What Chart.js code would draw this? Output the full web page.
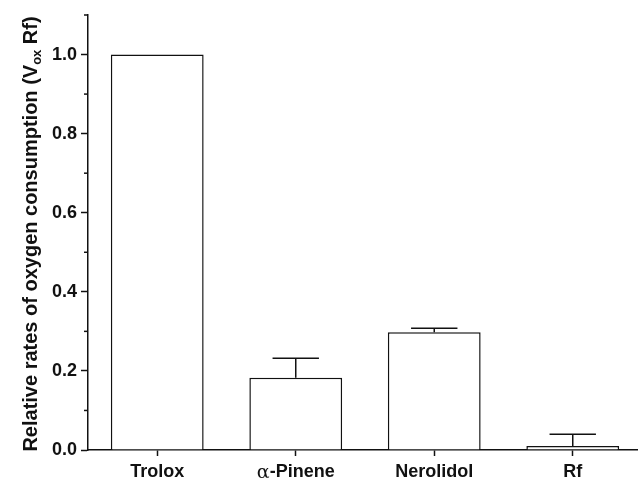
<!DOCTYPE html>
<html>
<head>
<meta charset="UTF-8">
<script src="https://cdn.jsdelivr.net/npm/chart.js@4/dist/chart.umd.min.js"></script>
<style>
  * { margin: 0; padding: 0; }
  body { background: #fff; width: 638px; height: 482px; overflow: hidden; }
  #wrap { width: 642px; height: 482px; position: relative; }
</style>
</head>
<body>
<div id="wrap"><canvas id="chart"></canvas></div>
<script>
// data
const categories = ['Trolox', 'α-Pinene', 'Nerolidol', 'Rf'];
const values = [1.0, 0.183, 0.298, 0.010];
const errors = [0, 0.049, 0.010, 0.030];
const yMax = 1.1;
const yStep = 0.1;

const FONT = "'Liberation Sans', Arial, sans-serif";
const INK = '#111';

// upward-only error bars with caps half the bar width
const errorBars = {
  id: 'errorBars',
  afterDatasetsDraw(chart) {
    const { ctx, scales: { y } } = chart;
    const meta = chart.getDatasetMeta(0);
    ctx.save();
    ctx.strokeStyle = INK;
    ctx.lineWidth = 1.5;
    meta.data.forEach((bar, i) => {
      if (!errors[i]) return;
      const top = y.getPixelForValue(values[i] + errors[i]);
      const base = y.getPixelForValue(values[i]);
      const half = bar.width / 4;
      ctx.beginPath();
      ctx.moveTo(bar.x, base);
      ctx.lineTo(bar.x, top);
      ctx.moveTo(bar.x - half, top);
      ctx.lineTo(bar.x + half, top);
      ctx.stroke();
    });
    ctx.restore();
  }
};

// minor ticks, x labels and the rotated y title with subscript
const decorations = {
  id: 'decorations',
  afterDraw(chart) {
    const { ctx, scales: { x, y }, chartArea } = chart;
    ctx.save();
    ctx.strokeStyle = INK;
    ctx.lineWidth = 1.5;
    // minor ticks at odd tenths
    for (let k = 1; k <= 11; k += 2) {
      const py = y.getPixelForValue(k / 10);
      ctx.beginPath();
      ctx.moveTo(chartArea.left - 4, py);
      ctx.lineTo(chartArea.left, py);
      ctx.stroke();
    }

    // category labels
    ctx.fillStyle = INK;
    ctx.textBaseline = 'middle';
    categories.forEach((c, i) => {
      const px = x.getPixelForValue(i);
      if (c.startsWith('α')) {
        const rest = c.slice(1);
        ctx.font = "19px 'DejaVu Serif', serif";
        const a = ctx.measureText('α').width;
        ctx.font = 'bold 18px ' + FONT;
        const r = ctx.measureText(rest).width;
        const start = px - (a + r) / 2;
        ctx.textAlign = 'left';
        ctx.font = "19px 'DejaVu Serif', serif";
        ctx.fillText('α', start, 473);
        ctx.font = 'bold 18px ' + FONT;
        ctx.fillText(rest, start + a, 472);
      } else {
        ctx.textAlign = 'center';
        ctx.font = 'bold 18px ' + FONT;
        ctx.fillText(c, px, 472);
      }
    });

    // y title
    const parts = [
      { t: 'Relative rates of oxygen consumption (V', f: 'bold 20px ' + FONT, dy: 0 },
      { t: 'ox', f: 'bold 13px ' + FONT, dy: 4 },
      { t: ' Rf)', f: 'bold 20px ' + FONT, dy: 0 }
    ];
    let total = 0;
    parts.forEach(p => { ctx.font = p.f; p.w = ctx.measureText(p.t).width; total += p.w; });
    ctx.translate(37, 234);
    ctx.rotate(-Math.PI / 2);
    ctx.textAlign = 'left';
    ctx.textBaseline = 'alphabetic';
    let cx = -total / 2;
    parts.forEach(p => {
      ctx.font = p.f;
      ctx.fillText(p.t, cx, p.dy);
      cx += p.w;
    });
    ctx.restore();
  }
};

new Chart(document.getElementById('chart'), {
  type: 'bar',
  data: {
    labels: categories,
    datasets: [{
      data: values,
      backgroundColor: '#fff',
      borderColor: INK,
      borderWidth: 1.5,
      borderSkipped: 'bottom',
      barPercentage: 0.67,
      categoryPercentage: 1.0
    }]
  },
  options: {
    responsive: true,
    maintainAspectRatio: false,
    animation: false,
    layout: { padding: { top: 15, right: 0, left: 0, bottom: 0 } },
    plugins: { legend: { display: false }, tooltip: { enabled: false } },
    scales: {
      x: {
        grid: { display: true, drawOnChartArea: false, offset: false, tickLength: 6, tickColor: INK, tickWidth: 1.5 },
        border: { color: INK, width: 1.5 },
        ticks: { display: false },
        afterFit(scale) { scale.height = 32; }
      },
      y: {
        min: 0,
        max: yMax,
        grid: {
          drawOnChartArea: false,
          tickLength: 7,
          tickWidth: 1.5,
          tickColor: ctx => (Math.round(ctx.tick.value * 10) % 2 === 0 ? INK : 'transparent')
        },
        border: { color: INK, width: 1.5 },
        ticks: {
          stepSize: yStep,
          padding: 4,
          color: INK,
          font: { family: FONT, size: 18, weight: 'bold' },
          callback: v => (Math.round(v * 10) % 2 === 0 ? v.toFixed(1) : '')
        },
        afterFit(scale) { scale.width = 88; }
      }
    }
  },
  plugins: [errorBars, decorations]
});
</script>
</body>
</html>
